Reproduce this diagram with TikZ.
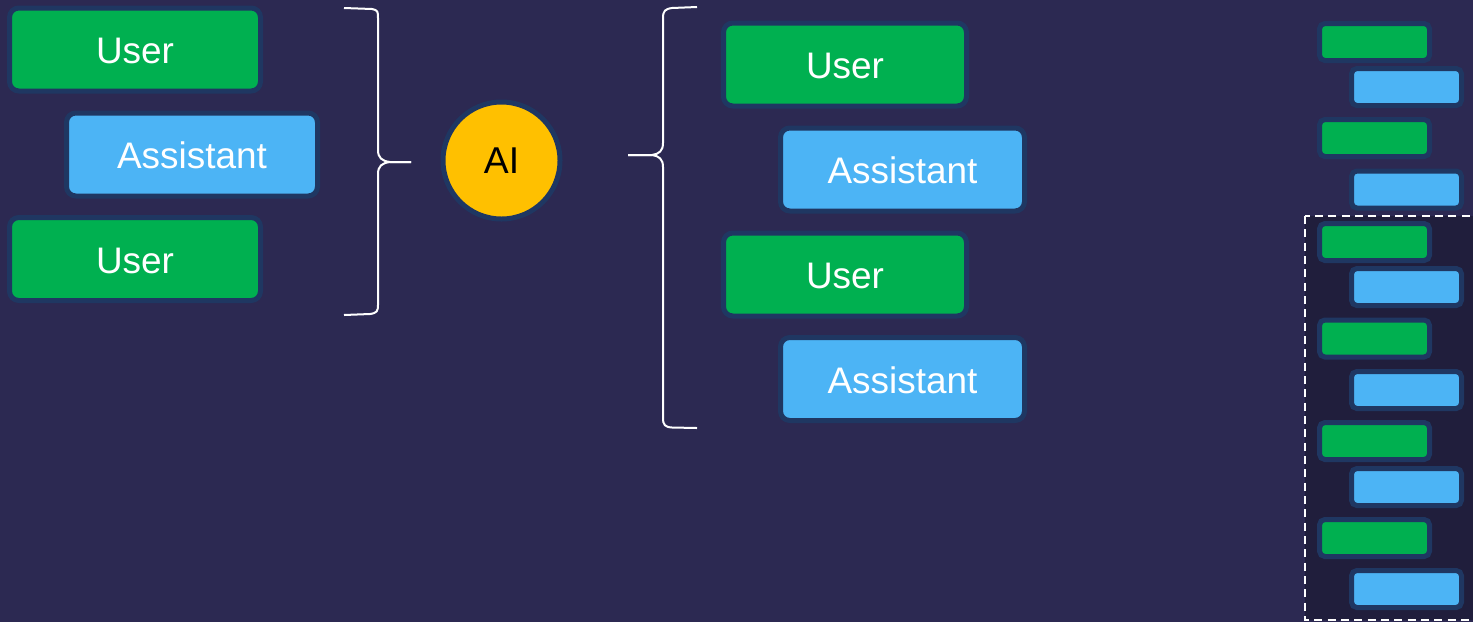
\documentclass[tikz,border=0pt]{standalone}
\usepackage{fontspec}
\setmainfont{Liberation Sans}
\definecolor{bgc}{HTML}{2C2952}
\definecolor{panelc}{HTML}{201E3C}
\definecolor{edgec}{HTML}{1F3762}
\definecolor{userc}{HTML}{00B050}
\definecolor{asstc}{HTML}{4CB4F5}
\definecolor{aic}{HTML}{FFC000}
\tikzset{
  bigbox/.style={draw=edgec, line width=3.75pt, rounded corners=7pt, minimum height=62.25pt,
     text=white, font=\fontsize{27.7}{30}\selectfont, inner sep=0pt, text height=21pt, text depth=0pt},
  useb/.style={bigbox, fill=userc},
  asstb/.style={bigbox, fill=asstc},
  minib/.style={draw=edgec, line width=3.75pt, rounded corners=4pt, minimum width=82.5pt,
     minimum height=27.75pt, inner sep=0pt},
  miniu/.style={minib, fill=userc},
  minia/.style={minib, fill=asstc},
  bracec/.style={draw=white, line width=1.5pt},
}
\begin{document}
\begin{tikzpicture}[x=0.75pt,y=-0.75pt]
\useasboundingbox (0,0) rectangle (1473,622);
\clip (0,0) rectangle (1473,622);
\fill[bgc] (0,0) rectangle (1473,622);

% left stack
\node[useb, minimum width=188.25pt] (u1) at (135,49.5) {User};
\node[asstb, minimum width=188.25pt] (a1) at (192,154.5) {Assistant};
\node[useb, minimum width=188.25pt] (u2) at (135,259) {User};

% left brace
\coordinate (lbt) at (344,8);
\coordinate (lbm) at (411,162);
\coordinate (lbb) at (344,315);
\draw[bracec] (lbt) -- (372,9) .. controls (378,10) and (378,12) .. (378,18)
  -- (378,150) .. controls (378,158) and (382,161) .. (390,162) -- (lbm);
\draw[bracec] (lbm) -- (390,162) .. controls (382,163) and (378,166) .. (378,174)
  -- (378,305) .. controls (378,311) and (377,313) .. (370,314) -- (lbb);

% AI circle
\node[circle, draw=edgec, line width=3.75pt, fill=aic, minimum size=87.75pt, inner sep=0pt,
  font=\fontsize{28}{30}\selectfont, text=black] (ai) at (501.5,160.5) {AI};

% right brace
\coordinate (rbt) at (697,7);
\coordinate (rbm) at (628,155);
\coordinate (rbb) at (697,428);
\draw[bracec] (rbt) -- (672,8) .. controls (665,9) and (663,11) .. (663,18)
  -- (663,143) .. controls (663,151) and (659,154) .. (652,155) -- (rbm);
\draw[bracec] (rbm) -- (652,155) .. controls (659,156) and (663,159) .. (663,167)
  -- (663,418) .. controls (663,425) and (665,427) .. (672,427.5) -- (rbb);

% right stack
\node[useb, minimum width=182.25pt] (u3) at (845,64.5) {User};
\node[asstb, minimum width=183pt] (a3) at (902.5,169.5) {Assistant};
\node[useb, minimum width=182.25pt] (u4) at (845,274.5) {User};
\node[asstb, minimum width=183pt] (a4) at (902.5,379) {Assistant};

% dashed panel
\draw[white, fill=panelc, line width=1.5pt, dash pattern=on 6pt off 4pt] (1305,216) rectangle (1490,620);

% mini stack
\node[miniu] (m1) at (1374.5,42) {};
\node[minia] (n1) at (1406.5,87) {};
\node[miniu] (m2) at (1374.5,138) {};
\node[minia] (n2) at (1406.5,189.5) {};
\node[miniu] (m3) at (1374.5,242) {};
\node[minia] (n3) at (1406.5,287) {};
\node[miniu] (m4) at (1374.5,338.5) {};
\node[minia] (n4) at (1406.5,390) {};
\node[miniu] (m5) at (1374.5,441) {};
\node[minia] (n5) at (1406.5,487) {};
\node[miniu] (m6) at (1374.5,538) {};
\node[minia] (n6) at (1406.5,589) {};
\end{tikzpicture}
\end{document}
